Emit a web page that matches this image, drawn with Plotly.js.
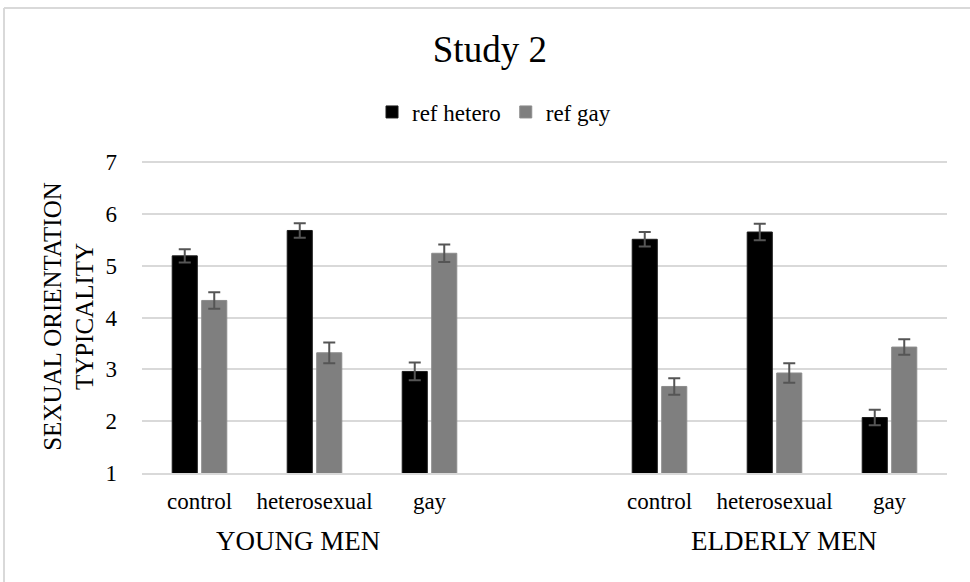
<!DOCTYPE html>
<html>
<head>
<meta charset="utf-8">
<script src="https://cdn.plot.ly/plotly-3.0.1.min.js"></script>
<style>html,body{margin:0;padding:0;background:#fff;}#chart{width:970px;height:582px;}</style>
</head>
<body>
<div id="chart"></div>
<script>
// ---- data ----
const groups = ['YOUNG MEN', 'ELDERLY MEN'];
const conditions = ['control', 'heterosexual', 'gay'];
const seriesNames = ['ref hetero', 'ref gay'];
const refHetero = [5.19, 5.68, 2.96, 5.51, 5.65, 2.07];
const refHeteroErr = [0.13, 0.14, 0.17, 0.14, 0.16, 0.15];
const refGay = [4.33, 3.32, 5.24, 2.67, 2.93, 3.43];
const refGayErr = [0.16, 0.20, 0.17, 0.16, 0.19, 0.15];
const yTicks = [1, 2, 3, 4, 5, 6, 7];

// ---- build positions (one empty slot between groups) ----
const xPos = [], tickText = [];
groups.forEach((g, gi) => conditions.forEach((c, ci) => {
  xPos.push(gi * (conditions.length + 1) + ci);
  tickText.push(c);
}));

const FONT = 'Liberation Serif';
const errStyle = {type: 'data', visible: true, color: '#555555', thickness: 2, width: 6};

const traces = [
  {type: 'bar', name: seriesNames[0], x: xPos, y: refHetero,
   marker: {color: '#000000', line: {color: '#1a1a1a', width: 1}},
   error_y: Object.assign({array: refHeteroErr}, errStyle)},
  {type: 'bar', name: seriesNames[1], x: xPos, y: refGay,
   marker: {color: '#7f7f7f', line: {color: '#8c8c8c', width: 1}},
   error_y: Object.assign({array: refGayErr}, errStyle)}
];

const L = 142, R = 23, T = 160, B = 109, W = 970, H = 582;
const pw = W - L - R, ph = H - T - B;
const px = v => (v - L) / pw;
const py = v => (H - B - v) / ph;

const layout = {
  width: W, height: H,
  margin: {l: L, r: R, t: T, b: B, pad: 0},
  paper_bgcolor: '#ffffff', plot_bgcolor: '#ffffff',
  font: {family: FONT, color: '#000000', size: 23},
  title: {text: 'Study 2', font: {family: FONT, size: 37, color: '#000'},
          x: 0.505, xanchor: 'center', xref: 'container',
          y: 1 - 49 / H, yanchor: 'middle', yref: 'container'},
  barmode: 'group', bargap: 0.487, bargroupgap: 0.15,
  showlegend: true,
  legend: {orientation: 'h', x: px(494), xanchor: 'center', y: py(112), yanchor: 'middle',
           font: {family: FONT, size: 23, color: '#000'}, itemwidth: 30, traceorder: 'normal',
           bgcolor: 'rgba(0,0,0,0)'},
  xaxis: {range: [-0.5, 6.5], tickvals: xPos, ticktext: tickText, ticks: '',
          showgrid: false, zeroline: false, showline: true, linecolor: '#d9d9d9', linewidth: 2,
          tickfont: {family: FONT, size: 23, color: '#000'}, ticklabelstandoff: 6, fixedrange: true},
  yaxis: {range: [1, 7.04], tickvals: yTicks, ticks: '', showgrid: true, gridcolor: '#d9d9d9', gridwidth: 2,
          zeroline: false, showline: false, tickfont: {family: FONT, size: 23, color: '#000'},
          ticklabelstandoff: 24, automargin: false, fixedrange: true,
          title: {text: 'SEXUAL ORIENTATION<br>TYPICALITY', font: {family: FONT, size: 25, color: '#000'}, standoff: 4}},
  annotations: groups.map((g, gi) => ({
    text: g, showarrow: false, xref: 'paper', yref: 'paper',
    x: px(gi === 0 ? 298 : 784), y: py(541), xanchor: 'center', yanchor: 'middle',
    font: {family: FONT, size: 27, color: '#000'}
  })),
  shapes: [
    {type: 'line', xref: 'paper', yref: 'paper', x0: px(4), x1: px(970), y0: py(8), y1: py(8),
     line: {color: '#d9d9d9', width: 2}},
    {type: 'line', xref: 'paper', yref: 'paper', x0: px(4), x1: px(4), y0: py(8), y1: py(582),
     line: {color: '#d9d9d9', width: 2}}
  ]
};

Plotly.newPlot('chart', traces, layout, {displayModeBar: false, staticPlot: true});
</script>
</body>
</html>
